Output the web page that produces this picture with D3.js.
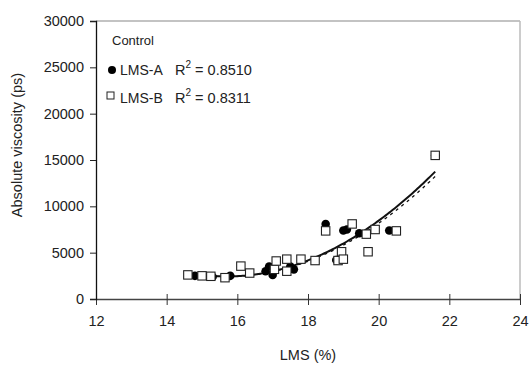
<!DOCTYPE html>
<html>
<head>
<meta charset="utf-8">
<script src="https://cdn.jsdelivr.net/npm/d3@7/dist/d3.min.js"></script>
<style>
  html, body { margin: 0; padding: 0; background: #fff; }
  svg text { font-family: "Liberation Sans", Arial, sans-serif; fill: #222; }
</style>
</head>
<body>
<svg id="chart" width="529" height="368"></svg>
<script>
// LMS content (%) and absolute viscosity (ps), control samples
const lmsA  = [14.8, 15.3, 15.8, 16.8, 16.9, 17.0, 17.5, 17.6, 18.5, 18.8, 19.0, 19.1, 19.45, 20.3, 21.6];
const viscA = [2500, 2400, 2500, 3000, 3500, 2600, 3500, 3200, 8100, 4200, 7400, 7500, 7100, 7400, 15500];
const lmsB  = [14.6, 15.0, 15.25, 15.65, 16.1, 16.35, 17.05, 17.1, 17.4, 17.4, 17.8, 18.2, 18.5, 18.85, 18.95, 19.0, 19.25, 19.65, 19.7, 19.9, 20.5, 21.6];
const viscB = [2600, 2500, 2450, 2300, 3550, 2800, 3200, 4100, 4300, 3000, 4300, 4150, 7350, 4150, 5100, 4300, 8100, 7000, 5100, 7500, 7350, 15500];
// second-order polynomial trendlines: [constant, linear, quadratic]
const trendA = [81895, -10134, 323.1];
const trendB = [78828, -9733, 310.0];
const r2Labels = ["0.8510", "0.8311"];
const xTicks = [12, 14, 16, 18, 20, 22, 24];
const yTicks = [0, 5000, 10000, 15000, 20000, 25000, 30000];

const svg = d3.select("#chart");
const x = d3.scaleLinear().domain([12, 24]).range([96, 520]);
const y = d3.scaleLinear().domain([0, 30000]).range([299, 21]);

// plot frame (top and right edges)
svg.append("line").attr("x1", 96).attr("x2", 520).attr("y1", 21).attr("y2", 21)
  .attr("stroke", "#888").attr("stroke-width", 1.2);
svg.append("line").attr("x1", 520).attr("x2", 520).attr("y1", 21).attr("y2", 299)
  .attr("stroke", "#bbb").attr("stroke-width", 1.5);

// x axis with ticks crossing the line
const gx = svg.append("g").attr("transform", "translate(0,299)")
  .call(d3.axisBottom(x).tickValues(xTicks).tickSize(0).tickPadding(17));
gx.select(".domain").attr("stroke", "#444").attr("stroke-width", 1.5);
gx.selectAll(".tick").append("line").attr("y1", -5).attr("y2", 6).attr("stroke", "#333");
gx.selectAll("text").attr("font-size", 14.5).attr("fill", "#222");

// y axis, outside ticks
const gy = svg.append("g").attr("transform", "translate(96,0)")
  .call(d3.axisLeft(y).tickValues(yTicks).tickSize(6).tickPadding(6).tickFormat(d3.format("d")));
gy.select(".domain").attr("stroke", "#111").attr("stroke-width", 1.3);
gy.selectAll(".tick line").attr("stroke", "#222");
gy.selectAll("text").attr("font-size", 14.5).attr("fill", "#222");

svg.append("text").attr("x", 308).attr("y", 360).attr("text-anchor", "middle")
  .attr("font-size", 14.5).text("LMS (%)");
svg.append("text").attr("transform", "translate(22,145) rotate(-90)")
  .attr("text-anchor", "middle").attr("font-size", 14.5).text("Absolute viscosity (ps)");

// trendline over the LMS range of its series
function trend(coef, xs, dash) {
  const f = v => coef[0] + coef[1] * v + coef[2] * v * v;
  const pts = d3.range(d3.min(xs), d3.max(xs) + 0.001, 0.05).map(v => [v, f(v)]);
  svg.append("path").datum(pts)
    .attr("d", d3.line().x(d => x(d[0])).y(d => y(d[1])))
    .attr("fill", "none").attr("stroke", "#111")
    .attr("stroke-width", dash ? 1.3 : 2)
    .attr("stroke-dasharray", dash ? "3,4" : null);
}
trend(trendB, lmsB, true);
trend(trendA, lmsA, false);

// markers
svg.append("g").selectAll("circle").data(lmsA.map((v, i) => [v, viscA[i]])).join("circle")
  .attr("cx", d => x(d[0])).attr("cy", d => y(d[1])).attr("r", 4.3).attr("fill", "#000");
svg.append("g").selectAll("rect").data(lmsB.map((v, i) => [v, viscB[i]])).join("rect")
  .attr("x", d => x(d[0]) - 4.2).attr("y", d => y(d[1]) - 4.2)
  .attr("width", 8.4).attr("height", 8.4)
  .attr("fill", "#fff").attr("stroke", "#222").attr("stroke-width", 1.1);

// legend
const lg = svg.append("g");
lg.append("text").attr("x", 112).attr("y", 45).attr("font-size", 13).text("Control");
lg.append("circle").attr("cx", 112).attr("cy", 70).attr("r", 4).attr("fill", "#000");
lg.append("rect").attr("x", 107).attr("y", 92).attr("width", 7).attr("height", 7)
  .attr("fill", "#fff").attr("stroke", "#222").attr("stroke-width", 1);
["LMS-A", "LMS-B"].forEach((name, i) => {
  const yy = 75 + i * 28;
  lg.append("text").attr("x", 120).attr("y", yy).attr("font-size", 14).text(name);
  const t = lg.append("text").attr("x", 175).attr("y", yy).attr("font-size", 14.5);
  t.append("tspan").text("R");
  t.append("tspan").attr("dy", -7).attr("font-size", 10).text("2");
  t.append("tspan").attr("dy", 7).text(" = " + r2Labels[i]);
});
</script>
</body>
</html>
